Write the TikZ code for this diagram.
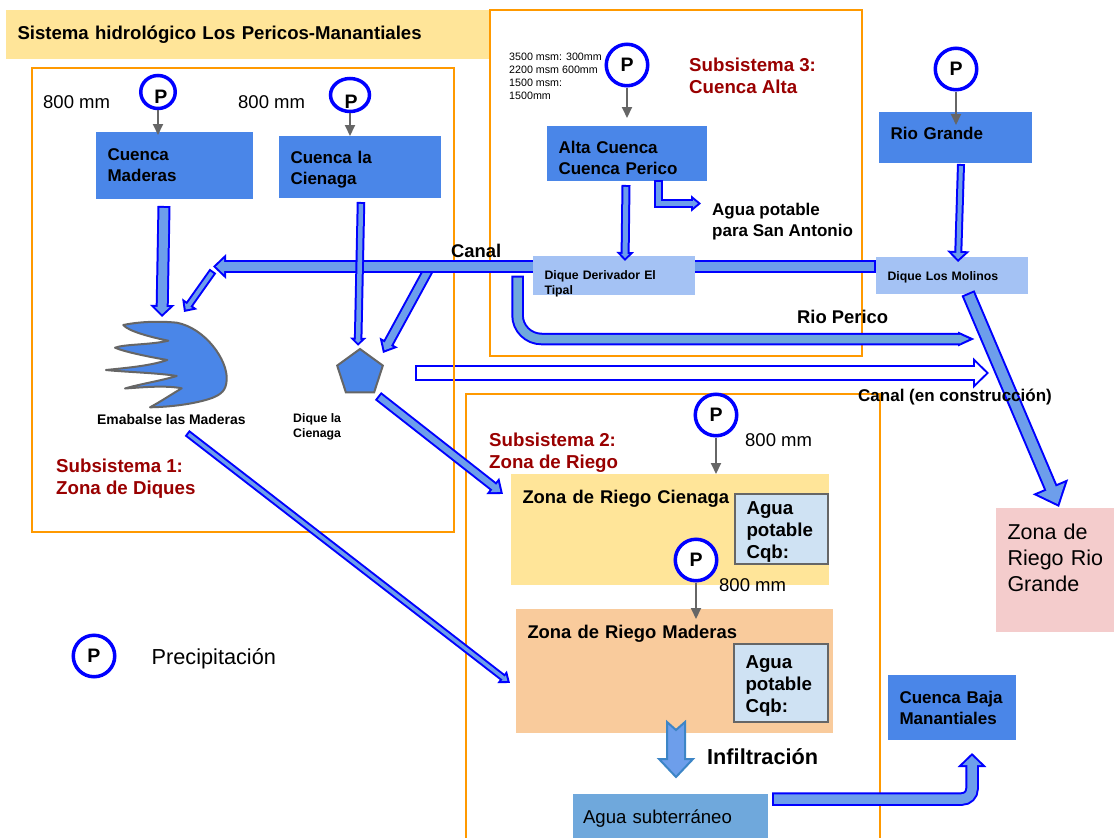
\documentclass[tikz,border=0pt]{standalone}
\usepackage{fontspec}
\setmainfont{Liberation Sans}
\usepackage{tikz}
\usetikzlibrary{calc}
\usetikzlibrary{shapes.geometric}
\usetikzlibrary{arrows.meta}
\usetikzlibrary{positioning}
\definecolor{cuencablue}{HTML}{4A86E8}
\definecolor{diqueblue}{HTML}{A4C2F4}
\definecolor{arrowfill}{HTML}{6D9EEB}
\definecolor{skyblue}{HTML}{6FA8DC}
\definecolor{paleblue}{HTML}{CFE2F3}
\definecolor{paleyellow}{HTML}{FFE599}
\definecolor{paleorange}{HTML}{F9CB9C}
\definecolor{palepink}{HTML}{F4CCCC}
\definecolor{subsysorange}{HTML}{FF9900}
\definecolor{subsysred}{HTML}{990000}
\definecolor{raingray}{HTML}{666666}
\definecolor{strongblue}{HTML}{0000FF}
\definecolor{infilblue}{HTML}{3D85C6}

\begin{document}
\begin{tikzpicture}[x=1pt,y=-1pt]
  \tikzset{blockarrow/.code n args={4}{%
    \pgfmathsetmacro\bwid{2}%
    \pgfmathsetmacro\hwid{#2/2}%
    \pgfmathsetmacro\tipback{\bwid*sqrt(#3*#3+\hwid*\hwid)/\hwid}%
    \pgfmathsetmacro\inlen{#3-\tipback-\bwid}%
    \pgfmathsetmacro\inwid{#2*\inlen/#3}%
    \pgfmathsetmacro\inline{#1-2*\bwid}%
    \tikzset{preaction={draw=strongblue, line width=#1pt, shorten >=0pt, shorten <=0pt, -{Triangle[length=#3pt,width=#2pt]}},
      draw=#4, line width=\inline pt, shorten >=\tipback pt, shorten <=\bwid pt, -{Triangle[length=\inlen pt,width=\inwid pt]}}}}
  \tikzstyle{pnode}=[ellipse, draw=strongblue, line width=3.5pt, fill=white, minimum width=41.5pt, minimum height=41.5pt, inner sep=0pt, font=\bfseries\fontsize{19.5}{22}\selectfont]
  \tikzstyle{rain}=[draw=raingray, line width=2pt, -{Triangle[length=11pt,width=10pt]}]
  \tikzstyle{subsys}=[draw=subsysorange, line width=2pt]
  \tikzstyle{box}=[rectangle, anchor=north west, inner xsep=11.5pt, inner ysep=0pt, outer sep=0pt, align=left]
  \tikzstyle{bold17}=[font=\bfseries\fontsize{17}{21}\selectfont]
  \tikzstyle{bold18}=[font=\bfseries\fontsize{18.4}{22}\selectfont]
  \tikzstyle{bold19}=[font=\bfseries\fontsize{18.7}{22}\selectfont]
  \tikzstyle{bold12}=[font=\bfseries\fontsize{12.3}{15}\selectfont]
  \tikzstyle{cuenca}=[box, bold17, fill=cuencablue]
  \tikzstyle{dique}=[box, bold12, fill=diqueblue]
  \tikzstyle{potable}=[box, bold19, fill=paleblue, draw=raingray, line width=2pt]
  \tikzstyle{lbl}=[anchor=base west, inner sep=0pt, align=left]
  \tikzstyle{subsystext}=[lbl, bold19, text=subsysred]
  \tikzstyle{mm}=[lbl, font=\fontsize{18.5}{22}\selectfont]
  \useasboundingbox (0,0) rectangle (1114,838);

  % title strip
  \node[box, fill=paleyellow, font=\bfseries\fontsize{18.6}{22}\selectfont, text width=461pt, minimum width=484pt, text height=29pt, text depth=20pt] (title) at (6,10) {Sistema hidrológico Los Pericos-Manantiales};

  % canal under construction goes below the orange line
  \coordinate (obrastart) at (415,373);
  \coordinate (obraend) at (989,373);
  \path (obrastart) edge [blockarrow={15.5}{30}{16}{white}] (obraend);

  % subsystems
  \draw[subsys] (32,68) rectangle (454,532);
  \draw[subsys] (490,10) rectangle (862,356);
  \draw[subsys] (466,838) |- (880,394) -- (880,838);

  \node[cuenca, text width=134pt, text height=28.5pt, text depth=38.5pt] (cmaderas) at (96,132) {Cuenca\\Maderas};
  \node[cuenca, text width=139pt, text height=27.5pt, text depth=34.5pt] (ccienaga) at (279,136) {Cuenca la\\Cienaga};
  \node[cuenca, text width=137pt, text height=27pt, text depth=28pt] (calta) at (547,126) {Alta Cuenca\\Cuenca Perico};
  \node[cuenca, text width=130pt, text height=27pt, text depth=24pt] (riogrande) at (879,112) {Rio Grande};
  \node[cuenca, text width=105pt, text height=28.3pt, text depth=36.7pt] (cbaja) at (888,675) {Cuenca Baja\\Manantiales};

  % canal
  \coordinate (canalstart) at (876,266.5);
  \coordinate (canalend) at (213,266.5);
  \path ([shift={(218,-1.5)}]canalend) edge [blockarrow={11}{20}{12}{arrowfill}] (383,353);
  \path (canalstart) edge [blockarrow={13}{24}{13}{arrowfill}] (canalend);
  \path ([shift={(0,4.5)}]canalend) edge [blockarrow={8}{18}{10}{arrowfill}] (184,312);

  \node[dique, text width=139pt, text height=23.3pt, text depth=15.7pt] (dtipal) at (533,256) {Dique Derivador El\\Tipal};
  \node[dique, text width=129pt, text height=23pt, text depth=14pt] (dmolinos) at (876,257) {Dique Los Molinos};

  % reservoir and dam
  \coordinate (emb) at (165,322);
  \draw[draw=raingray, fill=cuencablue, line width=2pt, line join=round] (123.3,325) .. controls (140,321.5) and (160,321) .. (176.7,322.7) .. controls (205,328) and (228,360) .. (226.7,380) .. controls (226,390) and (222,394) .. (212,398) .. controls (195,404) and (170,407) .. (150,407.3) .. controls (160,402) and (172,394) .. (181.7,388.3) .. controls (165,385) and (140,387.5) .. (125,388.5) .. controls (140,384) and (160,381) .. (176.7,376) .. controls (160,373) and (125,372) .. (106,370) .. controls (125,368) and (150,366) .. (167.3,360) .. controls (150,357) and (125,352) .. (115,347.7) .. controls (125,344) and (150,345) .. (168.3,340.7) .. controls (150,337) and (128,331) .. (123.3,325) -- cycle;
  \node[regular polygon, regular polygon sides=5, draw=raingray, fill=cuencablue, line width=2pt, minimum size=48pt, inner sep=0pt] (dpent) at (360,373) {};
  \node[lbl, font=\bfseries\fontsize{13.9}{16}\selectfont] (lembalse) at (97,424) {Emabalse las Maderas};
  \node[lbl, font=\bfseries\fontsize{12.3}{15}\selectfont] (ldique) at (293,437) {Dique la\\Cienaga};

  % zones
  \node[box, bold18, fill=paleyellow, text width=295pt, text height=29pt, text depth=82pt] (zcienaga) at (511,474) {Zona de Riego Cienaga};
  \node[box, bold18, fill=paleorange, text width=294pt, text height=29.3pt, text depth=94.7pt] (zmaderas) at (516,609) {Zona de Riego Maderas};
  \node[potable, text width=70pt, text height=20pt, text depth=50pt] (acienaga) at (735,494) {Agua\\potable\\Cqb:};
  \node[potable, text width=71pt, text height=24pt, text depth=54pt] (amaderas) at (734,644) {Agua\\potable\\Cqb:};
  \node[box, fill=palepink, font=\fontsize{21.5}{26}\selectfont, text width=95pt, text height=31pt, text depth=93pt] (zrio) at (996,508) {Zona de\\\mbox{Riego Rio}\\Grande};
  \node[box, fill=skyblue, font=\fontsize{18.6}{22}\selectfont, text width=175pt, text height=29pt, text depth=15pt, inner xsep=10pt] (agsub) at (573,794) {Agua subterráneo};

  % block arrows
  \path ([shift={(-10.5,7)}]cmaderas.south) edge [blockarrow={13}{24}{12}{arrowfill}] ([shift={(-3,-5)}]emb.center)
        ([shift={(1,4)}]ccienaga.south) edge [blockarrow={8.5}{16}{8}{arrowfill}] ([shift={(-2,-2)}]dpent.north)
        ([shift={(-1,4)}]calta.south) edge [blockarrow={9}{17}{9}{arrowfill}] ([shift={(11,5)}]dtipal.north)
        ([shift={(5.5,1)}]riogrande.south) edge [blockarrow={8}{22}{11}{arrowfill}] ([shift={(6,5)}]dmolinos.north)
        ([shift={(16,-1)}]dmolinos.south) edge [blockarrow={14}{37}{22}{arrowfill}] ([shift={(4,-1)}]zrio.north)
        ([shift={(18,23)}]dpent.center) edge [blockarrow={10}{20}{13}{arrowfill}] ([shift={(-8,-35.5)}]zcienaga.west)
        ([shift={(22,111)}]emb.center) edge [blockarrow={7.5}{15}{10}{arrowfill}] ([shift={(-6,12)}]zmaderas.west);
  \coordinate (pericoend) at (975,339);
  \draw[blockarrow={12.5}{13.5}{17}{skyblue}, rounded corners=24pt] ([shift={(-15.5,0)}]dtipal.west) |- (pericoend);
  \coordinate (aguaend) at (701,203.5);
  \draw[blockarrow={8.7}{16}{10}{arrowfill}] ([shift={(31.5,-1)}]calta.south) |- (aguaend);
  \draw[blockarrow={13.5}{28}{14}{arrowfill}, rounded corners=10pt] ([shift={(4,-17)}]agsub.east) -| ([shift={(20,13)}]cbaja.south);
  \coordinate (infil) at (676,722);
  \draw[draw=infilblue, fill=arrowfill, line width=2pt] (infil) ++(-9,0) -- ++(9,8) -- ++(9,-8) -- ++(0,37) -- ++(8,0) -- ++(-17,18) -- ++(-17,-18) -- ++(8,0) -- cycle;

  % rain
  \node[pnode, minimum width=34.5pt, minimum height=33pt] (pmaderas) at (158,92) {};
  \node[pnode, minimum width=39pt, minimum height=33pt] (pcienaga) at (350,95) {};
  \node[pnode] (palta) at (627,65) {P};
  \node[pnode] (pgrande) at (956,69) {P};
  \node[pnode] (priego) at (716,415) {P};
  \node[pnode] (pzona) at (696,560) {P};
  \node[pnode] (plegend) at (94,656) {P};
  \path (pmaderas) edge [rain] (158,135)
        (pcienaga) edge [rain] (350,136)
        (palta) edge [rain] (627,118)
        (pgrande) edge [rain] (956,125)
        (priego) edge [rain] (716,474)
        (pzona) edge [rain] (696,619);
  \node[pnode, draw=none, fill=none, minimum width=0pt, minimum height=0pt] (tmaderas) at (161,97) {P};
  \node[pnode, draw=none, fill=none, minimum width=0pt, minimum height=0pt] (tcienaga) at (351,102) {P};

  % labels
  \node[mm] (m1) at (43,108.3) {800 mm};
  \node[mm] (m2) at (238,108.3) {800 mm};
  \node[mm] (m3) at (745,446.7) {800 mm};
  \node[mm] (m4) at (719,591) {800 mm};
  \node[lbl, font=\fontsize{10.7}{13}\selectfont] (alturas) at (509,99) {3500 msm: 300mm\\2200 msm 600mm\\1500 msm:\\1500mm};
  \node[subsystext] (sub3) at (689,93) {Subsistema 3:\\Cuenca Alta};
  \node[subsystext] (sub2) at (489,468.7) {Subsistema 2:\\Zona de Riego};
  \node[subsystext] (sub1) at (56,494) {Subsistema 1:\\Zona de Diques};
  \node[lbl, bold17] (lagua) at (712,236) {Agua potable\\para San Antonio};
  \node[lbl, bold18] (lcanal) at (451,257) {Canal};
  \node[lbl, bold18] (lperico) at (797,323) {Rio Perico};
  \node[lbl, bold17] (lobra) at (858,401) {Canal (en construcción)};
  \node[lbl, font=\bfseries\fontsize{21.7}{26}\selectfont] (linfil) at (707,764) {Infiltración};
  \node[font=\fontsize{21.7}{26}\selectfont, inner sep=0pt, yshift=-3pt] (lprecip) [right=35pt of plegend] {Precipitación};
\end{tikzpicture}
\end{document}
